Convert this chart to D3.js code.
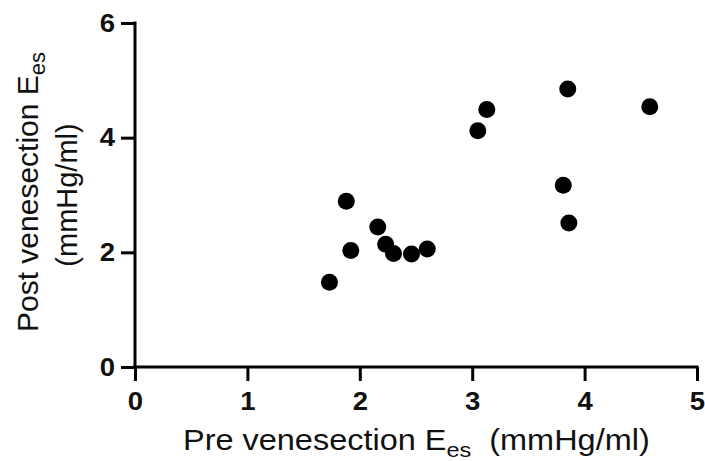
<!DOCTYPE html>
<html>
<head>
<meta charset="utf-8">
<script src="https://cdn.jsdelivr.net/npm/d3@7"></script>
<style>
  body { margin: 0; background: #fff; }
  text { font-family: "Liberation Sans", Arial, sans-serif; }
</style>
</head>
<body>
<svg id="chart" width="705" height="461"></svg>
<script>
// Pre / post venesection Ees values (mmHg/ml)
const preEes = [1.73, 1.88, 1.92, 2.16, 2.23, 2.30, 2.46, 2.60, 3.05, 3.13, 3.81, 3.85, 3.86, 4.58];
const postEes = [1.48, 2.89, 2.03, 2.44, 2.14, 1.98, 1.97, 2.06, 4.12, 4.49, 3.17, 4.85, 2.51, 4.54];
const xTicks = [0, 1, 2, 3, 4, 5];
const yTicks = [0, 2, 4, 6];

const svg = d3.select("#chart");
const margin = { left: 135, right: 8, top: 23, bottom: 94 };
const width = +svg.attr("width"),
  height = +svg.attr("height");

const x = d3.scaleLinear().domain([0, 5]).range([margin.left, width - margin.right]);
const y = d3.scaleLinear().domain([0, 6]).range([height - margin.bottom, margin.top]);

// axes
const xAxis = svg
  .append("g")
  .attr("transform", `translate(0,${y(0)})`)
  .call(d3.axisBottom(x).tickValues(xTicks).tickFormat(d3.format("d")).tickSize(14).tickPadding(11).tickSizeOuter(0));

const yAxis = svg
  .append("g")
  .attr("transform", `translate(${x(0)},0)`)
  .call(d3.axisLeft(y).tickValues(yTicks).tickFormat(d3.format("d")).tickSize(14).tickPadding(6).tickSizeOuter(0));

[xAxis, yAxis].forEach((g) => {
  g.select(".domain").attr("stroke", "#000").attr("stroke-width", 3);
  g.selectAll(".tick line").attr("stroke", "#000").attr("stroke-width", 3);
  g.selectAll(".tick text")
    .attr("fill", "#111")
    .attr("transform", "scale(1.1,1)")
    .style("font-size", "25px")
    .style("font-weight", "bold")
    .style("font-family", "'Liberation Sans', Arial, sans-serif");
});
yAxis.selectAll(".tick text").attr("x", -20 / 1.1);
// make the two axis lines meet at the corner
xAxis.select(".domain").attr("d", `M${x(0) - 1.5},0H${x(5) + 1.5}`);
yAxis.select(".domain").attr("d", `M0,${y(0) + 1.5}V${y(6) - 1.5}`);

// points
svg
  .append("g")
  .selectAll("circle")
  .data(preEes.map((d, i) => [d, postEes[i]]))
  .join("circle")
  .attr("cx", (d) => x(d[0]))
  .attr("cy", (d) => y(d[1]))
  .attr("r", 8.5)
  .attr("fill", "#000");

// x label
const xl = svg
  .append("text")
  .attr("transform", "translate(183,450) scale(1.12,1)")
  .style("font-size", "29px")
  .attr("fill", "#111");
xl.append("tspan").text("Pre venesection E");
xl.append("tspan").attr("dy", 6.5).style("font-size", "21px").text("es");
xl.append("tspan").attr("dy", -6.5).text("\u00a0\u00a0(mmHg/ml)");

// y label
const yl = svg
  .append("text")
  .attr("transform", `translate(38,192) rotate(-90)`)
  .attr("text-anchor", "middle")
  .style("font-size", "30px")
  .attr("fill", "#111");
yl.append("tspan").text("Post venesection E");
yl.append("tspan").attr("dy", 6.5).style("font-size", "22px").text("es");

svg
  .append("text")
  .attr("transform", `translate(77,195) rotate(-90)`)
  .attr("text-anchor", "middle")
  .style("font-size", "29px")
  .attr("fill", "#111")
  .text("(mmHg/ml)");
</script>
</body>
</html>
